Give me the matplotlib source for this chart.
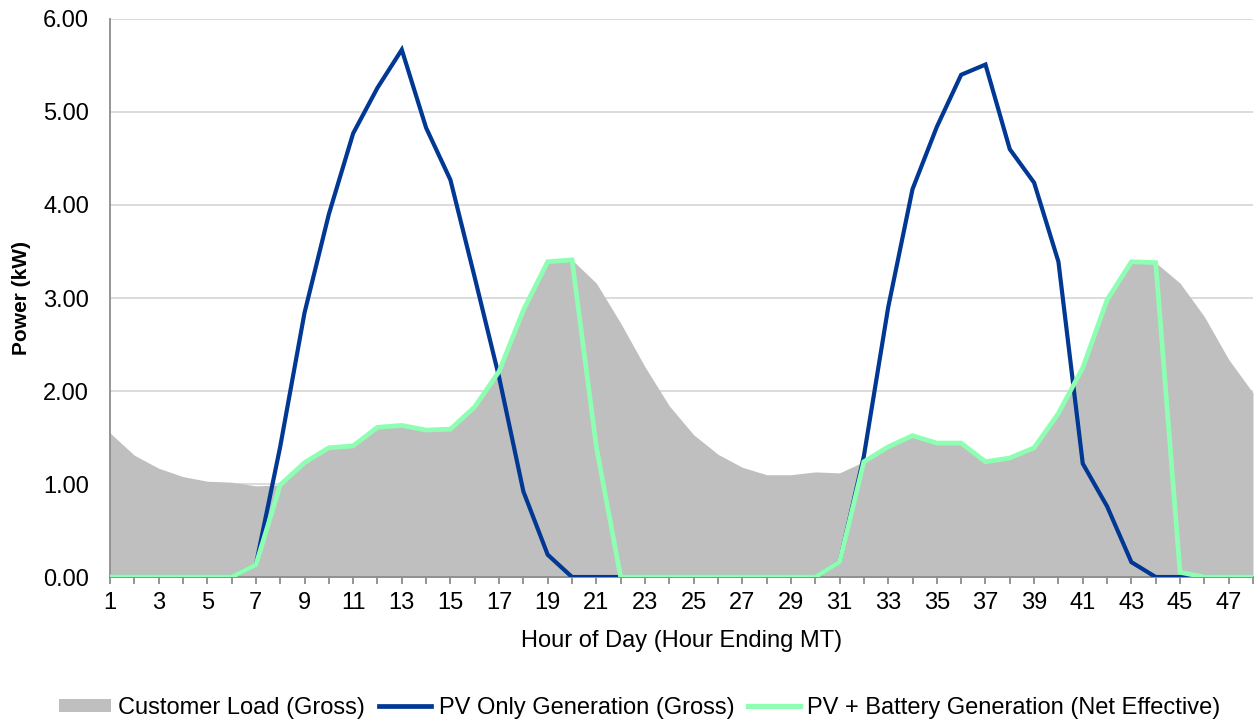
import matplotlib.pyplot as plt
from matplotlib.patches import Patch
from matplotlib.lines import Line2D

plt.rcParams['font.family'] = ['Liberation Sans', 'DejaVu Sans']

# Hours 1..48 (two days, hour ending MT)
horas = list(range(1, 49))

# Customer load (gross), kW
carga = [1.55, 1.31, 1.17, 1.08, 1.03, 1.02, 0.98, 0.99, 1.23, 1.39, 1.41, 1.61,
         1.63, 1.58, 1.59, 1.83, 2.21, 2.87, 3.39, 3.41, 3.16, 2.73, 2.26, 1.84,
         1.53, 1.32, 1.18, 1.10, 1.10, 1.13, 1.12, 1.24, 1.40, 1.52, 1.44, 1.44,
         1.24, 1.28, 1.39, 1.76, 2.25, 2.98, 3.39, 3.38, 3.16, 2.80, 2.34, 1.98]

# PV only generation (gross), kW
pv = [0, 0, 0, 0, 0, 0, 0.13, 1.40, 2.84, 3.90, 4.77, 5.26,
      5.67, 4.83, 4.27, 3.22, 2.15, 0.92, 0.24, 0, 0, 0, 0, 0,
      0, 0, 0, 0, 0, 0, 0.16, 1.30, 2.90, 4.17, 4.84, 5.40,
      5.51, 4.60, 4.24, 3.39, 1.22, 0.76, 0.16, 0, 0, 0, 0, 0]

# PV + battery generation (net effective), kW
pv_bat = [0, 0, 0, 0, 0, 0, 0.13, 0.99, 1.23, 1.39, 1.41, 1.61,
          1.63, 1.58, 1.59, 1.83, 2.21, 2.87, 3.39, 3.41, 1.40, 0, 0, 0,
          0, 0, 0, 0, 0, 0, 0.16, 1.24, 1.40, 1.52, 1.44, 1.44,
          1.24, 1.28, 1.39, 1.76, 2.25, 2.98, 3.39, 3.38, 0.05, 0, 0, 0]

etiquetas = ['Customer Load (Gross)', 'PV Only Generation (Gross)',
             'PV + Battery Generation (Net Effective)']

gris = '#bfbfbf'
azul = '#003893'
verde = '#8effb2'

fig = plt.figure(figsize=(12.55, 7.22), dpi=100)
ax = fig.add_axes([0.0876, 0.2008, 0.9108, 0.7729])

ax.fill_between(horas, carga, 0, color=gris, linewidth=0, zorder=2)
ax.plot(horas, pv, color=azul, linewidth=3.0, zorder=3, solid_joinstyle='miter')
ax.plot(horas, pv_bat, color=verde, linewidth=3.4, zorder=4, solid_joinstyle='miter')

ax.set_xlim(1, 48)
ax.set_ylim(0, 6)
ax.set_xticks(horas)
ax.set_xticklabels([str(h) if h % 2 == 1 else '' for h in horas])
ax.set_yticks([0, 1, 2, 3, 4, 5, 6])
ax.set_yticklabels([f'{v:.2f}' for v in range(7)])

ax.grid(axis='y', color='#d9d9d9', linewidth=1.3)
ax.set_axisbelow(True)
for lado in ['top', 'right']:
    ax.spines[lado].set_visible(False)
ax.spines['left'].set_color('#8c8c8c')
ax.spines['bottom'].set_color('#8c8c8c')
ax.spines['left'].set_linewidth(1.3)
ax.spines['bottom'].set_linewidth(1.3)

ax.tick_params(axis='x', length=5, width=1.3, color='#8c8c8c', pad=6, labelsize=17)
ax.tick_params(axis='y', length=0, pad=15, labelsize=17)

ax.set_xlabel('Hour of Day (Hour Ending MT)', fontsize=17, labelpad=11)
ax.set_ylabel('Power (kW)', fontsize=15, fontweight='bold', labelpad=9)

manejadores = [Patch(facecolor=gris, edgecolor='none'),
               Line2D([0], [0], color=azul, linewidth=3.4),
               Line2D([0], [0], color=verde, linewidth=3.8)]
fig.legend(manejadores, etiquetas, loc='center',
           bbox_to_anchor=(640 / 1255, 1 - 708 / 722), ncol=3, frameon=False,
           fontsize=17, handlelength=2.2, handleheight=0.5, handletextpad=0.3,
           columnspacing=0.6)

fig.savefig('out.png', dpi=100)
